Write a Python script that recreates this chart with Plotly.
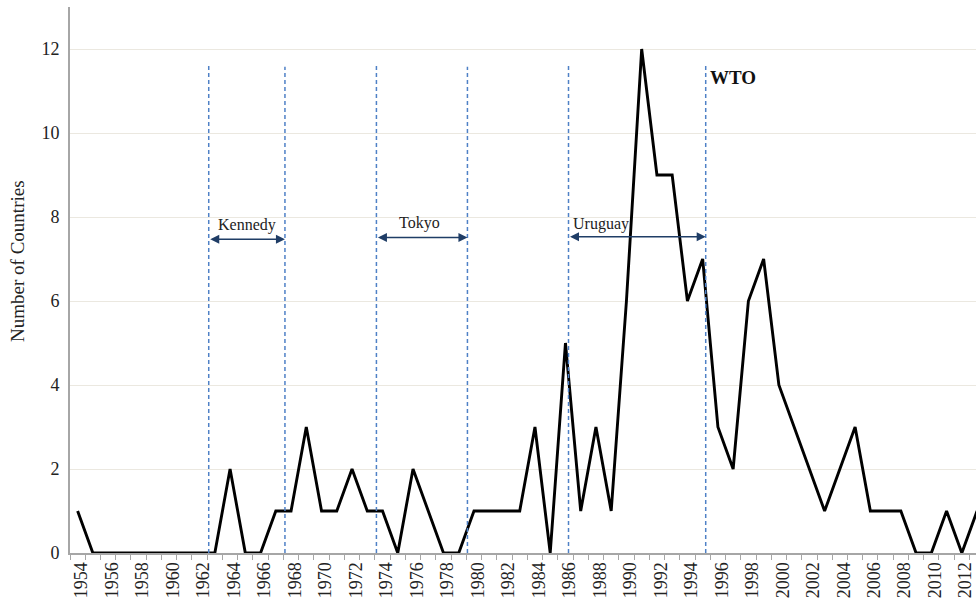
import plotly.graph_objects as go

years = list(range(1954, 2014))
countries = [1, 0, 0, 0, 0, 0, 0, 0, 0, 0,   # 1954-1963
             2, 0, 0, 1, 1, 3, 1, 1, 2, 1,   # 1964-1973
             1, 0, 2, 1, 0, 0, 1, 1, 1, 1,   # 1974-1983
             3, 0, 5, 1, 3, 1, 6, 12, 9, 9,  # 1984-1993
             6, 7, 3, 2, 6, 7, 4, 3, 2, 1,   # 1994-2003
             2, 3, 1, 1, 1, 0, 0, 1, 0, 1]   # 2004-2013

tick_years = list(range(1954, 2013, 2))
tick_labels = [str(y) for y in tick_years]
LABEL_SHIFT = 0.25  # rotated labels sit slightly right of their category

# round boundary markers (as drawn, in year coordinates)
round_lines = [1962.6, 1967.6, 1973.6, 1979.57, 1986.2, 1995.2]
round_line_tops = [11.65, 11.58, 11.6, 11.58, 11.6, 11.6]
round_names = ["Kennedy", "Tokyo", "Uruguay"]
round_spans = [(1962.6, 1967.6), (1973.6, 1979.57), (1986.2, 1995.2)]
arrow_levels = [7.47, 7.51, 7.53]
label_x = [1965.1, 1976.45, 1988.3]
label_levels = [7.82, 7.86, 7.84]

FONT = "Liberation Serif"

fig = go.Figure()
fig.add_trace(go.Scatter(x=years, y=countries, mode="lines",
                         line=dict(color="black", width=2.9),
                         showlegend=False, hoverinfo="x+y"))

for xv, top in zip(round_lines, round_line_tops):
    fig.add_shape(type="line", xref="x", yref="y", x0=xv, x1=xv, y0=0, y1=top,
                  line=dict(color="#4f81c6", width=1.5, dash="4px,3px"))

for (a, b), lvl in zip(round_spans, arrow_levels):
    fig.add_annotation(x=b, y=lvl, ax=a, ay=lvl, xref="x", yref="y",
                       axref="x", ayref="y", text="", showarrow=True,
                       arrowhead=2, startarrowhead=2, arrowside="end+start",
                       arrowsize=1.2, startarrowsize=1.2,
                       arrowwidth=1.5, arrowcolor="#1f3d66")

for name, lx, ly in zip(round_names, label_x, label_levels):
    fig.add_annotation(x=lx, y=ly, xref="x", yref="y", text=name,
                       showarrow=False, font=dict(family=FONT, size=16, color="#222"))

fig.add_annotation(x=1995.35, y=11.33, xref="x", yref="y", text="<b>WTO</b>",
                   showarrow=False, xanchor="left",
                   font=dict(family=FONT, size=19, color="#111"))

# y-axis title (placed as in the reference, slightly above centre)
fig.add_annotation(x=-0.0574, y=0.535, xref="paper", yref="paper",
                   text="Number of Countries", textangle=-90, showarrow=False,
                   xanchor="center", yanchor="middle",
                   font=dict(family=FONT, size=19, color="#222"))

fig.update_layout(
    width=976, height=603,
    margin=dict(l=70, r=0, t=7, b=50, autoexpand=False),
    paper_bgcolor="white", plot_bgcolor="white",
    font=dict(family=FONT, color="#222"),
    xaxis=dict(range=[1953.5, 2012.93],
               tickvals=[y + LABEL_SHIFT for y in tick_years], ticktext=tick_labels,
               tickangle=-90, ticks="", showgrid=False, zeroline=False,
               automargin=False, ticklabeloverflow="allow",
               showline=True, linecolor="#a6a6a6", linewidth=2,
               tickfont=dict(family=FONT, size=18, color="#222"),
               minor=dict(ticks="outside", tick0=1953.5, dtick=1, ticklen=5,
                          tickcolor="#a6a6a6", tickwidth=1, showgrid=False)),
    yaxis=dict(range=[0, 13], tickvals=[0, 2, 4, 6, 8, 10, 12], ticks="",
               showgrid=True, gridcolor="#ebe8e0", gridwidth=1, zeroline=False,
               automargin=False, ticklabelstandoff=5,
               showline=True, linecolor="#a6a6a6", linewidth=2,
               tickfont=dict(family=FONT, size=18, color="#222")),
)

fig.write_html("out.html", config={"displayModeBar": False},
               post_script="document.body.style.margin='0';document.body.style.overflow='hidden';")
